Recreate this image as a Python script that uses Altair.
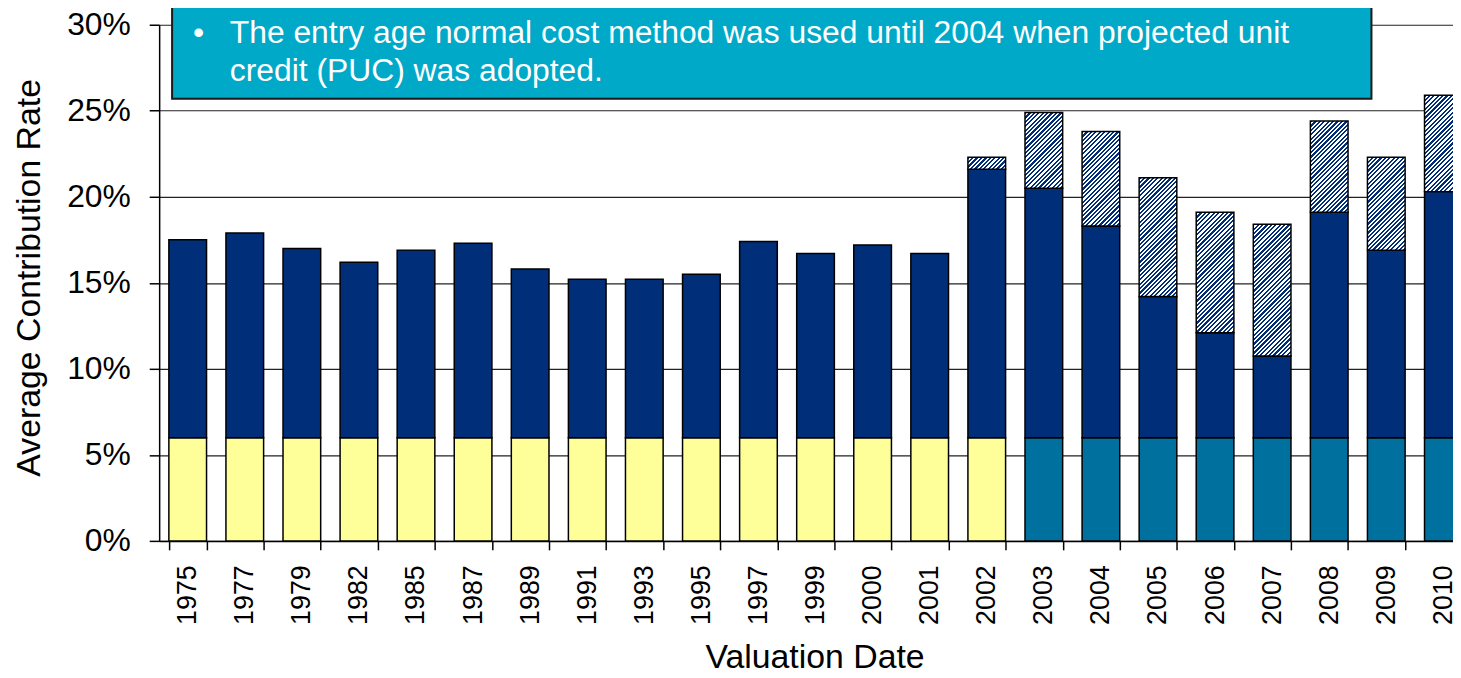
import altair as alt
import pandas as pd

# ---------------- data ----------------
years = ["1975", "1977", "1979", "1982", "1985", "1987", "1989", "1991", "1993",
         "1995", "1997", "1999", "2000", "2001", "2002", "2003", "2004", "2005",
         "2006", "2007", "2008", "2009", "2010"]
base_rate = [6.0] * 23
base_group = ["EANC"] * 15 + ["PUC"] * 8
solid_top = [17.5, 17.9, 17.0, 16.2, 16.9, 17.3, 15.8, 15.2, 15.2, 15.5, 17.4,
             16.7, 17.2, 16.7, 21.6, 20.5, 18.3, 14.2, 12.1, 10.75, 19.1, 16.9, 20.3]
hatch_years = ["2002", "2003", "2004", "2005", "2006", "2007", "2008", "2009", "2010"]
hatch_top = [22.3, 24.9, 23.8, 21.1, 19.1, 18.4, 24.4, 22.3, 25.9]
y_ticks = [0, 5, 10, 15, 20, 25, 30]
note_lines = ["The entry age normal cost method was used until 2004 when projected unit",
              "credit (PUC) was adopted."]

# ---------------- style ----------------
FONT = "Liberation Sans"
NAVY = "#002E78"
YELLOW = "#FFFF99"
TEAL = "#00709F"
BOX = "#00A9C8"

PLOT_H = 519
VIEW_W = 1301
RANGE_W = 1320
PAD_IN = 0.34
STEP = RANGE_W / len(years)
BAR_W = STEP * (1 - PAD_IN)
PX_PER = PLOT_H / 30.0


def hatch_fill(h_pct):
    """diagonal stripe fill built as a hard-stop linear gradient"""
    h = h_pct * PX_PER
    w = BAR_W
    D = 240.0
    k = D / (w * w + h * h)
    n = 54
    stops = []
    for i in range(n):
        a, b, c = i / n, (i + 0.5) / n, (i + 1) / n
        stops += [{"offset": a, "color": NAVY}, {"offset": b, "color": NAVY},
                  {"offset": b, "color": "#ffffff"}, {"offset": c, "color": "#ffffff"}]
    return {"gradient": "linear", "x1": 0, "y1": 0, "x2": w * k, "y2": h * k,
            "stops": stops}


rows = []
for yr, b, g, s in zip(years, base_rate, base_group, solid_top):
    rows.append({"year": yr, "lo": 0.0, "hi": b, "seg": g})
    rows.append({"year": yr, "lo": b, "hi": s, "seg": "Employer"})
solid_df = pd.DataFrame(rows)

solid_map = dict(zip(years, solid_top))
hatch_df = pd.DataFrame({
    "year": hatch_years,
    "lo": [solid_map[y] for y in hatch_years],
    "hi": hatch_top,
})
hatch_df["grad"] = [hatch_fill(t - l) for t, l in zip(hatch_df["hi"], hatch_df["lo"])]

note_df = pd.DataFrame({"l1": [note_lines[0]], "l2": [note_lines[1]]})

X = alt.X(
    "year:N",
    sort=years,
    scale=alt.Scale(domain=years, range=[0, RANGE_W], paddingInner=PAD_IN,
                    paddingOuter=PAD_IN / 2),
    title="Valuation Date",
    axis=alt.Axis(tickBand="extent", tickSize=9, tickColor="black", tickWidth=1.5,
                  domainColor="black", domainWidth=1.5, labelAngle=270,
                  labelFontSize=27, labelPadding=15, labelColor="black",
                  labelFont=FONT, titleFont=FONT, titleFontSize=34,
                  titleFontWeight="normal", titleColor="black",
                  titleBaseline="alphabetic", titleY=127, titleX=659, grid=False),
)
YS = alt.Scale(domain=[0, 30], nice=False, zero=True)
YA = alt.Axis(values=y_ticks, labelExpr="datum.value + '%'", tickSize=10,
              tickColor="black", tickWidth=1.5, labelPadding=19, labelFontSize=32,
              labelColor="black", labelFont=FONT, domainColor="black",
              domainWidth=1.5, grid=True, gridColor="#222222", gridWidth=1.2,
              titleFont=FONT, titleFontSize=34, titleFontWeight="normal",
              titleColor="black", titleAngle=270, titleBaseline="alphabetic",
              titleX=-120, titleY=254)

solid = alt.Chart(solid_df).mark_bar(stroke="black", strokeWidth=1.5).encode(
    x=X,
    y=alt.Y("lo:Q", scale=YS, axis=YA, title="Average Contribution Rate"),
    y2="hi:Q",
    color=alt.Color("seg:N", scale=alt.Scale(domain=["EANC", "PUC", "Employer"],
                                             range=[YELLOW, TEAL, NAVY]),
                    legend=None),
)

hatch = alt.Chart(hatch_df).mark_bar(stroke="black", strokeWidth=1.5).encode(
    x=X,
    y=alt.Y("lo:Q", scale=YS, axis=YA, title="Average Contribution Rate"),
    y2="hi:Q",
    fill=alt.Fill("grad:N", scale=None),
)

box = alt.Chart(note_df).mark_rect(fill=BOX, stroke="#1a1a1a", strokeWidth=2).encode(
    x=alt.value(13), x2=alt.value(1219), y=alt.value(-40), y2=alt.value(74.5)
)
bullet = alt.Chart(note_df).mark_text(align="left", baseline="alphabetic", font=FONT,
                                      fontSize=32, color="white").encode(
    x=alt.value(34), y=alt.value(18), text=alt.value("\u2022")
)
line1 = alt.Chart(note_df).mark_text(align="left", baseline="alphabetic", font=FONT,
                                     fontSize=32, color="white").encode(
    x=alt.value(71), y=alt.value(18), text="l1:N"
)
line2 = alt.Chart(note_df).mark_text(align="left", baseline="alphabetic", font=FONT,
                                     fontSize=32, color="white").encode(
    x=alt.value(71), y=alt.value(57), text="l2:N"
)

chart = alt.layer(solid, hatch, box, bullet, line1, line2).properties(
    width=VIEW_W,
    height=PLOT_H,
    autosize=alt.AutoSizeParams(type="none"),
    padding={"left": 152, "top": 15, "right": 0, "bottom": 128},
).configure_view(stroke=None)

chart.save("out.html", embed_options={"renderer": "svg", "actions": False})
